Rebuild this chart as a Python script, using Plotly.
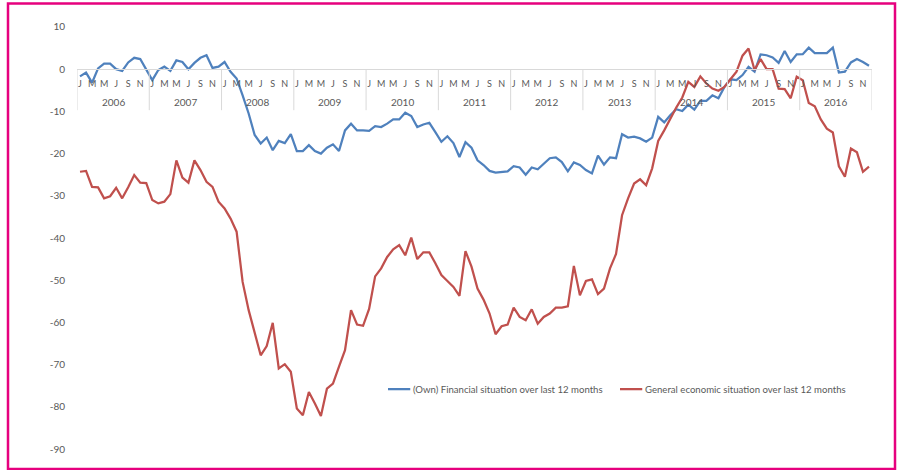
import plotly.graph_objects as go

# months Jan 2006 .. Dec 2016
years = list(range(2006, 2017))
month_letters = ["J", "F", "M", "A", "M", "J", "J", "A", "S", "O", "N", "D"]

# (Own) Financial situation over last 12 months
own_fin = [
    -1.7, -0.8, -3.2, 0.2, 1.3, 1.3, 0.0, -0.4, 1.6, 2.7, 2.4, -0.1,          # 2006
    -2.6, -0.2, 0.6, -0.4, 2.1, 1.7, 0.0, 1.5, 2.7, 3.3, 0.3, 0.6,            # 2007
    1.7, -0.6, -2.2, -6.2, -10.5, -15.6, -17.6, -16.2, -19.2, -17.0, -17.5, -15.4,  # 2008
    -19.4, -19.4, -18.0, -19.4, -20.0, -18.6, -17.8, -19.4, -14.5, -12.9, -14.5, -14.5,  # 2009
    -14.6, -13.5, -13.7, -12.9, -11.9, -11.9, -10.3, -11.1, -13.7, -13.1, -12.7, -14.9,  # 2010
    -17.2, -15.9, -17.5, -20.8, -17.3, -18.6, -21.6, -22.7, -24.1, -24.5, -24.3, -24.2,  # 2011
    -23.0, -23.3, -25.0, -23.3, -23.7, -22.4, -21.1, -20.9, -22.0, -24.2, -22.1, -22.7,  # 2012
    -23.9, -24.7, -20.5, -22.6, -20.9, -21.1, -15.4, -16.2, -16.0, -16.4, -17.2, -16.2,  # 2013
    -11.3, -12.6, -10.9, -9.5, -9.9, -8.4, -9.6, -7.5, -7.5, -6.2, -6.9, -4.2,  # 2014
    -2.4, -2.6, -1.4, 0.55, -0.6, 3.5, 3.3, 2.8, 1.5, 4.3, 1.7, 3.5,          # 2015
    3.55, 5.1, 3.8, 3.8, 3.8, 5.1, -0.8, -0.6, 1.6, 2.4, 1.7, 0.8,            # 2016
]

# General economic situation over last 12 months
gen_econ = [
    -24.3, -24.1, -27.9, -28.0, -30.6, -30.1, -28.1, -30.6, -28.0, -25.1, -26.9, -27.0,  # 2006
    -31.0, -31.8, -31.4, -29.6, -21.6, -25.7, -26.9, -21.6, -23.9, -26.7, -27.9, -31.4,  # 2007
    -33.0, -35.4, -38.5, -50.4, -57.1, -62.6, -67.8, -65.6, -60.1, -70.9, -69.9, -71.7,  # 2008
    -80.4, -82.0, -76.5, -79.2, -82.2, -75.7, -74.5, -70.5, -66.6, -57.1, -60.5, -60.8,  # 2009
    -56.8, -49.1, -47.2, -44.5, -42.7, -41.7, -44.1, -39.9, -45.0, -43.4, -43.4, -46.0,  # 2010
    -48.8, -50.2, -51.6, -53.7, -43.1, -46.8, -52.0, -54.6, -57.9, -62.8, -60.9, -60.5,  # 2011
    -56.5, -58.7, -59.5, -56.9, -60.3, -58.7, -57.9, -56.5, -56.5, -56.2, -46.6, -53.6,  # 2012
    -50.2, -49.8, -53.3, -52.0, -47.2, -43.8, -34.6, -30.6, -27.1, -26.1, -27.5, -23.5,  # 2013
    -17.0, -14.5, -11.7, -9.1, -6.7, -3.0, -4.2, -1.7, -3.4, -4.6, -5.1, -4.2,  # 2014
    -2.4, -0.6, 3.2, 4.9, -0.2, 2.4, 0.0, 0.0, -4.6, -4.7, -6.9, -1.8,        # 2015
    -2.6, -8.0, -8.8, -11.9, -14.1, -15.0, -23.0, -25.5, -18.8, -19.7, -24.3, -23.1,  # 2016
]

series_names = ["(Own) Financial situation over last 12 months",
                "General economic situation over last 12 months"]
series_colors = ["#4F81BD", "#C0504D"]

y_ticks = [10, 0, -10, -20, -30, -40, -50, -60, -70, -80, -90]

grey = "#595959"
font = "Lato"
y_range = [-94.5, 10.47]

n = len(own_fin)
idx = list(range(n))

fig = go.Figure()
for vals, name, col in zip([own_fin, gen_econ], series_names, series_colors):
    fig.add_trace(go.Scatter(x=idx, y=vals, mode="lines", name=name,
                             line=dict(color=col, width=2.25)))

# x axis crosses at y = 0
axis_pos = (0 - y_range[0]) / (y_range[1] - y_range[0])

fig.update_layout(
    width=903, height=470,
    margin=dict(l=77, r=31, t=25, b=2),
    paper_bgcolor="white", plot_bgcolor="white",
    font=dict(family=font, color=grey, size=10),
    showlegend=False,
    xaxis=dict(range=[-0.5, n - 0.5], anchor="free", position=axis_pos,
               tickvals=[i for i in idx if i % 2 == 0],
               ticktext=[month_letters[i % 12] for i in idx if i % 2 == 0],
               tickfont=dict(size=9, color=grey),
               ticks="outside", ticklen=6, tickcolor="rgba(0,0,0,0)",
               showline=True, linecolor="#d9d9d9", linewidth=1,
               showgrid=False, zeroline=False),
    yaxis=dict(range=y_range, tickvals=y_ticks, ticktext=[str(v) for v in y_ticks],
               tickfont=dict(size=10, color=grey),
               ticks="outside", ticklen=9, tickcolor="rgba(0,0,0,0)",
               showgrid=False, zeroline=False, showline=False),
)

# year dividers and year labels under the month letters
div_depth = -41 / 4.22
for k, yr in enumerate(years):
    fig.add_shape(type="line", xref="x", yref="y", x0=12 * k - 0.5, x1=12 * k - 0.5,
                  y0=0, y1=div_depth, line=dict(color="#d9d9d9", width=1))
    fig.add_annotation(x=12 * k + 5.5, y=0, xref="x", yref="y", text=str(yr),
                       showarrow=False, yshift=-33, font=dict(size=10, color=grey))
fig.add_shape(type="line", xref="x", yref="y", x0=n - 0.5, x1=n - 0.5,
              y0=0, y1=div_depth, line=dict(color="#d9d9d9", width=1))

# legend drawn by hand (short line samples like the original)
leg_y = 0.178
leg_x = [0.3912, 0.683]
for lx, name, col in zip(leg_x, series_names, series_colors):
    fig.add_shape(type="line", xref="paper", yref="paper", x0=lx, x1=lx + 0.028,
                  y0=leg_y, y1=leg_y, line=dict(color=col, width=2.25))
    fig.add_annotation(x=lx + 0.029, y=leg_y, xref="paper", yref="paper", text=name,
                       showarrow=False, xanchor="left", yanchor="middle",
                       font=dict(size=9.6, color=grey))

# magenta frame around the chart
fig.add_shape(type="rect", xref="paper", yref="paper",
              x0=(8 - 77) / 795, x1=(895 - 77) / 795,
              y0=-0.002, y1=(468 - 3.5) / 443,
              line=dict(color="#E6007E", width=2.5), layer="above")

fig.write_html("out.html", config={"displayModeBar": False},
               post_script="document.body.style.margin='0';")
